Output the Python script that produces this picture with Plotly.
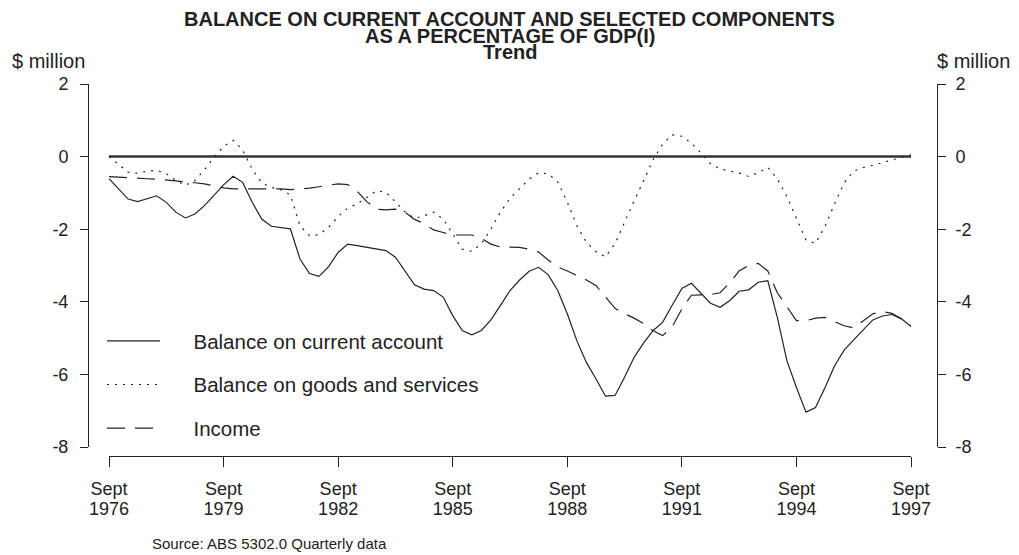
import plotly.graph_objects as go

# ---- data (quarterly, Sept 1976 - Sept 1997), % of GDP(I) ----
month_names = ["Sept", "Dec", "Mar", "June"]
quarters = []
for i in range(85):
    yr = 1976 + i // 4 + (1 if (i % 4) >= 2 else 0)
    quarters.append(f"{month_names[i % 4]} {yr}")

current_account = [-0.61, -0.89, -1.17, -1.24, -1.15, -1.08, -1.26, -1.53, -1.69, -1.58,
                   -1.35, -1.07, -0.78, -0.54, -0.71, -1.26, -1.72, -1.92, -1.95, -1.99,
                   -2.82, -3.22, -3.30, -3.03, -2.64, -2.41, -2.45, -2.50, -2.54, -2.59,
                   -2.77, -3.14, -3.53, -3.65, -3.69, -3.87, -4.38, -4.79, -4.91, -4.79,
                   -4.50, -4.10, -3.69, -3.40, -3.16, -3.05, -3.25, -3.69, -4.33, -5.07,
                   -5.67, -6.12, -6.60, -6.58, -6.08, -5.53, -5.13, -4.79, -4.56, -4.09,
                   -3.63, -3.49, -3.76, -4.04, -4.15, -3.97, -3.71, -3.67, -3.46, -3.42,
                   -4.43, -5.62, -6.36, -7.04, -6.91, -6.36, -5.76, -5.33, -5.05, -4.78,
                   -4.50, -4.39, -4.35, -4.47, -4.68]

goods_services = [0.00, -0.22, -0.43, -0.46, -0.40, -0.38, -0.47, -0.66, -0.79, -0.66,
                  -0.36, -0.02, 0.28, 0.45, 0.18, -0.35, -0.72, -0.85, -0.91, -1.05,
                  -1.90, -2.18, -2.15, -1.95, -1.65, -1.42, -1.30, -1.13, -0.94, -0.98,
                  -1.25, -1.52, -1.70, -1.63, -1.53, -1.72, -2.13, -2.55, -2.61, -2.40,
                  -2.00, -1.53, -1.15, -0.89, -0.62, -0.45, -0.47, -0.70, -1.25, -1.90,
                  -2.36, -2.62, -2.76, -2.40, -1.80, -1.22, -0.66, -0.08, 0.35, 0.60,
                  0.56, 0.37, 0.10, -0.20, -0.34, -0.39, -0.45, -0.55, -0.44, -0.30,
                  -0.61, -1.10, -1.72, -2.30, -2.39, -1.92, -1.30, -0.72, -0.40, -0.30,
                  -0.24, -0.17, -0.09, -0.01, 0.05]

income = [-0.55, -0.57, -0.59, -0.61, -0.61, -0.62, -0.64, -0.67, -0.70, -0.72,
          -0.75, -0.81, -0.86, -0.89, -0.89, -0.88, -0.87, -0.88, -0.89, -0.91,
          -0.90, -0.87, -0.83, -0.80, -0.75, -0.77, -0.96, -1.24, -1.45, -1.47,
          -1.45, -1.53, -1.73, -1.84, -2.02, -2.09, -2.16, -2.16, -2.16, -2.25,
          -2.41, -2.49, -2.50, -2.50, -2.55, -2.63, -2.85, -3.04, -3.15, -3.27,
          -3.40, -3.55, -3.85, -4.18, -4.33, -4.45, -4.60, -4.80, -4.93, -4.68,
          -4.20, -3.82, -3.81, -3.80, -3.75, -3.48, -3.15, -3.00, -2.94, -3.15,
          -3.75, -4.15, -4.52, -4.52, -4.45, -4.43, -4.55, -4.66, -4.72, -4.52,
          -4.33, -4.27, -4.32, -4.47, -4.66]

zero_line = [0.0] * len(quarters)

tick_quarters = ["Sept 1976", "Sept 1979", "Sept 1982", "Sept 1985",
                 "Sept 1988", "Sept 1991", "Sept 1994", "Sept 1997"]
tick_month = [q.split(" ")[0] for q in tick_quarters]
tick_year = [q.split(" ")[1] for q in tick_quarters]
y_ticks = [2, 0, -2, -4, -6, -8]
y_tick_text = ["2", "0", "-2", "-4", "-6", "-8"]

FONT = "Liberation Sans, Arial, Helvetica, sans-serif"
INK = "#222222"

# page offset (body margin) -> work in page pixel coordinates
OFF = 8
W, H = 1019 - OFF, 555 - OFF
AX_L, AX_R = 88, 937          # page x of left / right value axes
TOP, BOT, XLINE = 84, 447, 456  # page y of 2, -8 and the time axis
DX0, DX1 = 109, 911             # page x of first / last quarter

L = AX_L - OFF
R = W - (AX_R - OFF)
T = TOP - OFF
B = H - (XLINE - OFF)
pw = W - L - R
ph = H - T - B


def px_x(px):
    return (px - OFF - L) / pw


def px_y(py):
    return (H - B - (py - OFF)) / ph


fig = go.Figure()
fig.add_trace(go.Scatter(x=quarters, y=zero_line, mode="lines", showlegend=False,
                         line=dict(color="#333333", width=2.5), hoverinfo="skip"))
pad = "\u00a0" * 5
fig.add_trace(go.Scatter(x=quarters, y=current_account, mode="lines",
                         name=pad + "Balance on current account", legendgroup="a",
                         line=dict(color=INK, width=1.2)))
fig.add_trace(go.Scatter(x=quarters, y=goods_services, mode="lines",
                         name=pad + "Balance on goods and services", legendgroup="b",
                         line=dict(color=INK, width=1.2, dash="2px,6px")))
fig.add_trace(go.Scatter(x=quarters, y=income, mode="lines",
                         name=pad + "Income", legendgroup="c",
                         line=dict(color=INK, width=1.2, dash="18px,10px")))
# invisible companions so the right value axis and the year row are drawn
fig.add_trace(go.Scatter(x=quarters, y=income, yaxis="y2", mode="lines",
                         line=dict(width=0), opacity=0, showlegend=False, hoverinfo="skip"))
fig.add_trace(go.Scatter(x=quarters, y=income, xaxis="x2", mode="lines",
                         line=dict(width=0), opacity=0, showlegend=False, hoverinfo="skip"))

x0 = px_x(DX0)
x1 = px_x(DX1)
tick_font = dict(size=18, color=INK, family=FONT)

fig.update_layout(
    width=W, height=H,
    margin=dict(l=L, r=R, t=T, b=B, pad=0),
    paper_bgcolor="white", plot_bgcolor="white",
    font=dict(family=FONT, color=INK, size=18),
    showlegend=True,
    legend=dict(x=px_x(102), y=px_y(321), xanchor="left", yanchor="top",
                bgcolor="rgba(0,0,0,0)", borderwidth=0,
                font=dict(size=20.5, color=INK, family=FONT),
                tracegroupgap=14, itemwidth=53, traceorder="grouped"),
    xaxis=dict(type="category", domain=[x0, x1], range=[0, len(quarters) - 1],
               anchor="free", position=0, showline=True, linecolor=INK, linewidth=1,
               ticks="outside", ticklen=10, tickcolor=INK, tickwidth=1,
               tickvals=tick_quarters, ticktext=tick_month, showgrid=False,
               zeroline=False, tickfont=tick_font, ticklabelstandoff=6),
    xaxis2=dict(type="category", overlaying="x", matches="x", domain=[x0, x1],
                anchor="free", position=0, showline=False, ticks="",
                tickvals=tick_quarters, ticktext=tick_year, showgrid=False,
                zeroline=False, tickfont=tick_font, ticklabelstandoff=40),
    yaxis=dict(domain=[(XLINE - BOT) / ph, 1], range=[-8, 2], anchor="free", position=0,
               side="left", showline=True, linecolor=INK, linewidth=1,
               ticks="outside", ticklen=8, tickcolor=INK, tickvals=y_ticks,
               ticktext=y_tick_text, showgrid=False, zeroline=False,
               tickfont=tick_font, ticklabelstandoff=8),
    yaxis2=dict(overlaying="y", matches="y", anchor="free", position=1,
                side="right", showline=True, linecolor=INK, linewidth=1,
                ticks="outside", ticklen=8, tickcolor=INK, tickvals=y_ticks,
                ticktext=y_tick_text, showgrid=False, zeroline=False,
                tickfont=tick_font, ticklabelstandoff=6),
)

ann = [
    ("BALANCE ON CURRENT ACCOUNT AND SELECTED COMPONENTS", 509.5, 19, "center", 20, True),
    ("AS A PERCENTAGE OF GDP(I)", 509.5, 35.5, "center", 20, True),
    ("Trend", 509.5, 52, "center", 20, True),
    ("$ million", 10, 61, "left", 20, False),
    ("$ million", 1012, 61, "right", 20, False),
    ("Source: ABS 5302.0 Quarterly data", 150, 543, "left", 15, False),
]
for text, ax, ay, al, fs, bold in ann:
    fig.add_annotation(text=f"<b>{text}</b>" if bold else text,
                       xref="paper", yref="paper", x=px_x(ax), y=px_y(ay),
                       xanchor=al, yanchor="middle", showarrow=False,
                       font=dict(size=fs, color=INK, family=FONT))

fig.write_html("out.html")
